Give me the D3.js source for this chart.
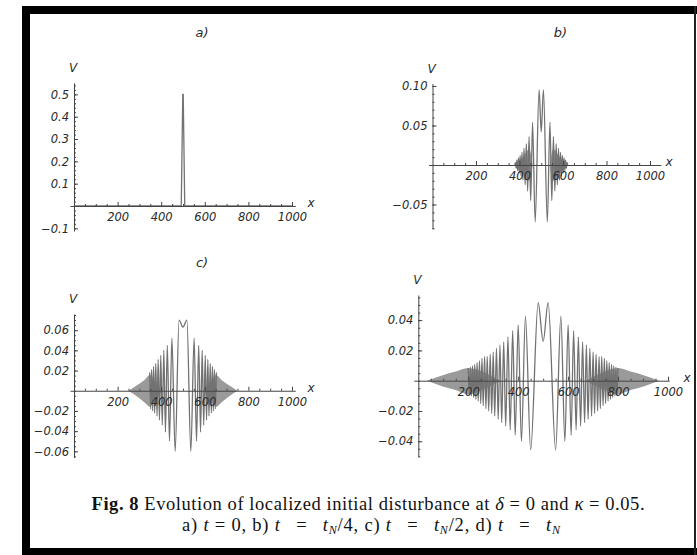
<!DOCTYPE html>
<html>
<head>
<meta charset="utf-8">
<script src="https://cdn.jsdelivr.net/npm/d3@7/dist/d3.min.js"></script>
<style>
  body { margin: 0; background: #fff; }
  .tick text, .lbl { font-family: "DejaVu Sans", sans-serif; font-style: italic; fill: #2a2a2a; }
  .cap { font-family: "Liberation Serif", "Times New Roman", serif; fill: #111; }
</style>
</head>
<body>
<div id="chart"></div>
<script>
var width = 697, height = 555;

// x ticks, same in all four panels
var xMajor = [200, 400, 600, 800, 1000];

// a) t = 0 : the initial pulse
var aX = [0, 492, 499, 501, 508, 1000];
var aV = [0, 0, 0.5, 0.5, 0, 0];

// b), c), d): extrema of the wave, given as distance from the centre x = 500
var centre = 500;

var bOff = [0, 10, 28, 40, 48.5, 56, 62.6, 68.6, 74, 79.2, 84, 88.5, 92.9, 97, 101, 104.8, 108.4, 112, 115.4, 118.8, 122];
var bVal = [0.042, 0.095, -0.072, 0.054, -0.045, 0.036, -0.033, 0.027, -0.025, 0.021, -0.019, 0.016, -0.014, 0.012, -0.010, 0.009, -0.007, 0.006, -0.004, 0.003, 0];
var bFillOff = [40, 55, 80, 100, 122];
var bFillTop = [0, 0.020, 0.012, 0.005, 0];
var bFillBot = [0, -0.020, -0.013, -0.005, 0];

var cOff = [0, 18, 36, 51, 62, 72, 80.5, 88, 95, 102, 108, 114, 119, 125, 130, 135, 139, 144, 148, 153];
var cVal = [0.063, 0.070, -0.060, 0.052, -0.050, 0.045, -0.041, 0.040, -0.034, 0.035, -0.029, 0.031, -0.025, 0.027, -0.022, 0.024, -0.020, 0.021, -0.018, 0.018];
var cFillOff = [95, 125, 152, 175, 200, 225, 250];
var cFillTop = [0, 0.008, 0.0155, 0.011, 0.007, 0.0035, 0];
var cFillBot = [0, -0.009, -0.016, -0.012, -0.0075, -0.0035, 0];

var dOff = [0, 20, 50, 71, 87, 100, 112, 122, 132, 141, 150, 158, 166, 173, 180, 187, 194, 200, 206, 212, 218, 224,
  229, 234.5, 240, 245, 250, 255, 260, 264.6, 269.3, 273.9, 278.4, 282.8, 287.2, 291.5, 295.8, 300];
var dVal = [0.026, 0.0515, -0.0457, 0.0427, -0.040, 0.0368, -0.036, 0.033, -0.0325, 0.029, -0.030, 0.0257, -0.0277, 0.0236, -0.0255, 0.0214, -0.0233, 0.019, -0.0216, 0.0175, -0.020, 0.016,
  -0.0185, 0.016, -0.0165, 0.0148, -0.015, 0.013, -0.0135, 0.012, -0.0123, 0.0107, -0.011, 0.0097, -0.010, 0.009, -0.0093, 0.0084];
var dFillOff = [170, 230, 300, 350, 405, 465];
var dFillTop = [0, 0.005, 0.0084, 0.006, 0.0035, 0];
var dFillBot = [0, -0.005, -0.009, -0.0062, -0.0036, 0];

// y ticks
var aYTicks = [-0.1, 0.1, 0.2, 0.3, 0.4, 0.5];
var bYTicks = [-0.05, 0.05, 0.10];
var cYTicks = [-0.06, -0.04, -0.02, 0.02, 0.04, 0.06];
var dYTicks = [-0.04, -0.02, 0.02, 0.04];

function mirror(off, val) {
  var pts = [];
  for (var i = off.length - 1; i > 0; i--) pts.push([centre - off[i], val[i]]);
  for (var j = 0; j < off.length; j++) pts.push([centre + off[j], val[j]]);
  return pts;
}

function side(off, top, bot, sign) {
  return off.map(function (o, i) { return [centre + sign * o, top[i], bot[i]]; })
      .sort(function (p, q) { return p[0] - q[0]; });
}

var panels = [
  {title: "a)", titleY: 37, x0: 74, x1000: 292, xEnd: 1015, vDom: [-0.112, 0.551], yRange: [231, 83],
    ticks: aYTicks, minor: 0.02, fmt: ".1f",
    line: aX.map(function (x, i) { return [x, aV[i]]; }), curve: d3.curveLinear},
  {title: "b)", titleY: 37, x0: 432.5, x1000: 650, xEnd: 1050, vDom: [-0.081, 0.103], yRange: [229, 83.6],
    ticks: bYTicks, minor: 0.01, fmt: ".2f",
    line: mirror(bOff, bVal), curve: d3.curveMonotoneX,
    fill: [side(bFillOff, bFillTop, bFillBot, -1), side(bFillOff, bFillTop, bFillBot, 1)]},
  {title: "c)", titleY: 267, x0: 74, x1000: 292, xEnd: 1015, vDom: [-0.066, 0.076], yRange: [457.4, 314],
    ticks: cYTicks, minor: 0.005, fmt: ".2f",
    line: mirror(cOff, cVal), curve: d3.curveMonotoneX,
    fill: [side(cFillOff, cFillTop, cFillBot, -1), side(cFillOff, cFillTop, cFillBot, 1)]},
  {title: "", x0: 418.3, x1000: 668, xEnd: 1005, vDom: [-0.0502, 0.0566], yRange: [456.7, 295],
    ticks: dYTicks, minor: 0.005, fmt: ".2f",
    line: mirror(dOff, dVal), curve: d3.curveMonotoneX,
    fill: [side(dFillOff, dFillTop, dFillBot, -1), side(dFillOff, dFillTop, dFillBot, 1)]}
];

var svg = d3.select("#chart").append("svg")
    .attr("width", width)
    .attr("height", height);

svg.append("rect").attr("width", width).attr("height", height).attr("fill", "#fff");

panels.forEach(function (p) {
  var x = d3.scaleLinear().domain([0, 1000]).range([p.x0, p.x1000]);
  var xAx = x.copy().domain([-18, p.xEnd]).range([x(-18), x(p.xEnd)]);
  var y = d3.scaleLinear().domain(p.vDom).range(p.yRange);
  var g = svg.append("g");

  if (p.fill) {
    var area = d3.area()
        .x(function (d) { return x(d[0]); })
        .y0(function (d) { return y(d[2]); })
        .y1(function (d) { return y(d[1]); })
        .curve(d3.curveMonotoneX);
    g.selectAll("path.fill").data(p.fill).enter().append("path")
        .attr("class", "fill")
        .attr("d", area)
        .attr("fill", "#9a9a9a");
  }

  var line = d3.line()
      .x(function (d) { return x(d[0]); })
      .y(function (d) { return y(d[1]); })
      .curve(p.curve);
  g.append("path")
      .attr("d", line(p.line))
      .attr("fill", "none")
      .attr("stroke", "#727272")
      .attr("stroke-width", 1.3);

  // axes cross at the origin
  var xMinor = d3.range(50, p.xEnd, 50).filter(function (v) { return v % 200 !== 0; });
  var yMinor = d3.range(Math.ceil(p.vDom[0] / p.minor) * p.minor, p.vDom[1], p.minor);

  var gx = g.append("g").attr("transform", "translate(0," + y(0) + ")");
  gx.call(d3.axisBottom(xAx).tickValues(xMajor).tickSizeInner(-4).tickSizeOuter(0).tickPadding(7)
      .tickFormat(d3.format("d")));
  gx.append("g").call(d3.axisBottom(xAx).tickValues(xMinor).tickSize(-2).tickFormat(""))
      .select(".domain").remove();

  var gy = g.append("g").attr("transform", "translate(" + x(0) + ",0)");
  gy.call(d3.axisLeft(y).tickValues(p.ticks).tickSizeInner(-4).tickSizeOuter(0).tickPadding(5)
      .tickFormat(d3.format(p.fmt)));
  gy.append("g").call(d3.axisLeft(y).tickValues(yMinor).tickSize(-2).tickFormat(""))
      .select(".domain").remove();

  g.selectAll(".domain, .tick line").attr("stroke", "#444");
  g.selectAll(".tick text").attr("font-size", 11.5).attr("fill", "#2a2a2a");

  g.append("text").attr("class", "lbl")
      .attr("x", x(0) - 1).attr("y", p.yRange[1] - 11)
      .attr("text-anchor", "middle").attr("font-size", 12).text("V");
  g.append("text").attr("class", "lbl")
      .attr("x", x(1000) + 19).attr("y", y(0) + 1)
      .attr("text-anchor", "middle").attr("font-size", 12).text("x");
  if (p.title) {
    g.append("text").attr("class", "lbl")
        .attr("x", p.x0 + 128).attr("y", p.titleY)
        .attr("text-anchor", "middle").attr("font-size", 13).text(p.title);
  }
});

// caption
var cap1 = svg.append("text").attr("class", "cap")
    .attr("x", 368).attr("y", 510).attr("text-anchor", "middle").attr("font-size", 18.5)
    .attr("textLength", 553).attr("lengthAdjust", "spacing");
cap1.append("tspan").attr("font-weight", "bold").text("Fig. 8");
cap1.append("tspan").text(" Evolution of localized initial disturbance at ");
cap1.append("tspan").attr("font-style", "italic").text("δ");
cap1.append("tspan").text(" = 0 and ");
cap1.append("tspan").attr("font-style", "italic").text("κ");
cap1.append("tspan").text(" = 0.05.");

var wideEq = "\u00a0\u2002=\u2002\u00a0";
var cap2 = svg.append("text").attr("class", "cap")
    .attr("x", 371).attr("y", 531).attr("text-anchor", "middle").attr("font-size", 18.5);
var parts = [["a) ", ""], ["t", "i"], [" = 0, b) ", ""], ["t", "i"], [wideEq, ""], ["t", "i"], ["N", "s"],
  ["/4, c) ", ""], ["t", "i"], [wideEq, ""], ["t", "i"], ["N", "s"], ["/2, d) ", ""], ["t", "i"],
  [wideEq, ""], ["t", "i"], ["N", "s"]];
parts.forEach(function (q, i) {
  var t = cap2.append("tspan").text(q[0]);
  if (q[1] === "i") t.attr("font-style", "italic");
  if (q[1] === "s") t.attr("font-style", "italic").attr("font-size", 12).attr("dy", 3);
  if (i > 0 && parts[i - 1][1] === "s") t.attr("dy", -3);
});
cap2.attr("textLength", 378).attr("lengthAdjust", "spacing");

// black frame of the figure
svg.append("rect").attr("x", 22).attr("y", 6).attr("width", 675).attr("height", 8).attr("fill", "#000");
svg.append("rect").attr("x", 22).attr("y", 6).attr("width", 8).attr("height", 549).attr("fill", "#000");
svg.append("rect").attr("x", 22).attr("y", 548).attr("width", 675).attr("height", 7).attr("fill", "#000");
svg.append("rect").attr("x", 694).attr("y", 6).attr("width", 2).attr("height", 549).attr("fill", "#222");
</script>
</body>
</html>
